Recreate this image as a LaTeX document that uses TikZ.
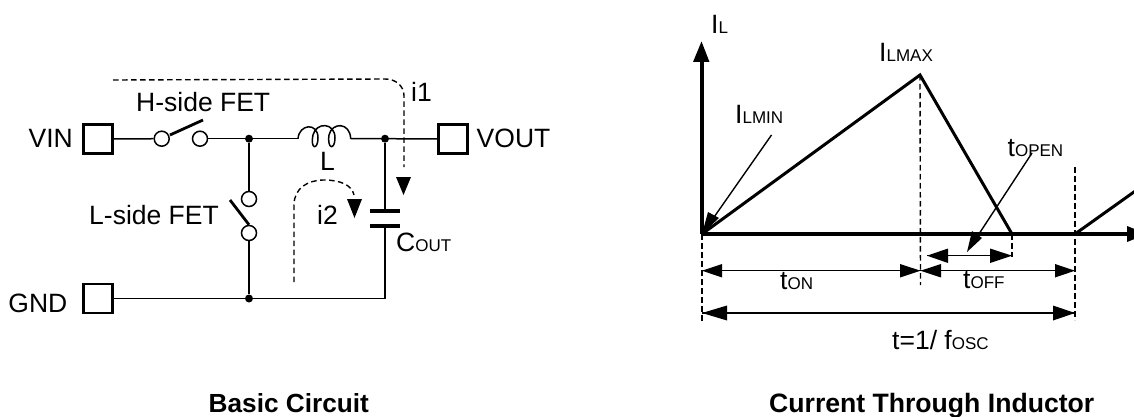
\documentclass[tikz,border=0pt]{standalone}
\usepackage{fontspec}
\setmainfont{Liberation Sans}
\newcommand{\sbs}[1]{{\fontsize{17}{17}\selectfont #1}}
\tikzset{
  x=1pt,y=-1pt,
  wire/.style={line width=1.5pt,draw=black},
  fat/.style={line width=2.8pt,draw=black},
  axisln/.style={line width=4pt,draw=black},
  dashln/.style={line width=1.4pt,draw=black,dash pattern=on 5.5pt off 3.5pt},
  term/.style={draw=black,line width=2.2pt,minimum size=29pt,inner sep=0pt,fill=white},
  dotn/.style={circle,fill=black,inner sep=0pt,minimum size=8pt},
  sw/.style={circle,draw=black,line width=1.5pt,minimum size=15pt,inner sep=0pt,fill=white},
  lab/.style={font=\fontsize{26.5}{28}\selectfont,inner sep=0pt,anchor=base west},
  ttl/.style={font=\fontsize{26.2}{28}\selectfont\bfseries,inner sep=0pt,anchor=base west},
  ttlb/.style={font=\fontsize{26.6}{28}\selectfont\bfseries,inner sep=0pt,anchor=base west},
  head/.style={fill=black,draw=none},
  dim/.style={line width=1.5pt,draw=black}
}
\begin{document}
\begin{tikzpicture}
\useasboundingbox (0,0) rectangle (1134,417);
\clip (0,0) rectangle (1134,417);
% circuit nodes
\node[term] (vin) at (98,139) {};
\node[term] (vout) at (453,139) {};
\node[term] (gnd) at (98,298.5) {};
\node[sw] (s1) at (161.7,138.7) {};
\node[sw] (s2) at (200,138.7) {};
\node[sw] (s3) at (249,199) {};
\node[sw] (s4) at (249,233) {};
\node[dotn] (j1) at (249,138.7) {};
\node[dotn] (j2) at (385,138.7) {};
\node[dotn] (j3) at (249,298.5) {};
\coordinate (c1) at (385,211);
\coordinate (c2) at (385,226);
\coordinate (lA) at (298,138.7);
\coordinate (lB) at (350.7,138.7);
\coordinate (corner) at (385,298.5);
% wires
\draw[wire] (vin) -- (s1);
\draw[wire] (s2) -- (j1) -- (lA);
\draw[wire] (lB) -- (j2) -- (vout);
\draw[wire] (j1) -- (s3);
\draw[wire] (s4) -- (j3);
\draw[wire] (gnd) -- (j3) -- (corner) -- (c2);
\draw[wire] (j2) -- (c1);
% inductor
\draw[wire] (lA) .. controls (299,124) and (318,122) .. (318,138)
  .. controls (318,150) and (310,150) .. (313,135) 
  .. controls (316,122) and (335,122) .. (335,138)
  .. controls (335,150) and (327,150) .. (329,135)
  .. controls (332,122) and (350,122) .. (lB);
% switch levers
\draw[fat] (170,135) -- (203,120);
\draw[fat] (230,200) -- (s4.north);
% capacitor
\draw[line width=4pt] (370,211) -- (400,211);
\draw[line width=4pt] (370,226) -- (400,226);
% current paths
\coordinate (i1s) at (113,80);
\coordinate (i1e) at (404,167);
\draw[dashln] (i1s) -- (385,79) .. controls (396,79) and (404,86) .. (404,96) -- (i1e);
\fill[head] (396,177) -- (411,177) -- (403.5,195) -- cycle;
\coordinate (i2s) at (294,282);
\coordinate (i2e) at (354,195);
\draw[dashln] (i2s) -- (294,205) .. controls (294,188) and (308,180) .. (324,180) .. controls (340,180) and (352,185) .. (i2e);
\fill[head] (347,199) -- (362,199) -- (354.5,218) -- cycle;
% circuit labels
\node[lab,anchor=base east] (tvin) at (73,147.5) {VIN};
\node[lab] (tvout) at (476.5,147.5) {VOUT};
\node[lab,anchor=base east] (tgnd) at (67.5,312) {GND};
\node[lab] (thf) at (136,111.7) {H-side FET};
\node[lab] (tlf) at (89,224.3) {L-side FET};
\node[lab] (tl) at (320,170.5) {L};
\node[lab] (ti1) at (411,102) {i1};
\node[lab] (ti2) at (317,224.3) {i2};
\node[lab] (tc) at (396,251) {C\sbs{OUT}};
\node[ttl] (t1) at (208.5,412.5) {Basic Circuit};
\node[ttlb] (t2) at (769,412.5) {Current Through Inductor};
% waveform
\coordinate (o) at (702,234);
\coordinate (ytop) at (702,60);
\coordinate (xend) at (1128,234);
\coordinate (peak) at (920,75);
\coordinate (zero) at (1012,234);
\coordinate (next) at (1075,234);
\coordinate (nextE) at (1136,190.5);
\draw[dashln] (peak) -- (920.5,285);
\draw[dashln] (1075,167) -- (1075,320);
\draw[dashln] (o) -- (702,322);
\draw[dashln] (zero) -- (1012,257);
\draw[axisln] (o) -- (ytop);
\draw[axisln] (o) -- (xend);
\fill[head] (693,62) -- (709.5,62) -- (701.5,41.5) -- cycle;
\fill[head] (1127,226) -- (1127,242) -- (1147,234) -- cycle;
\draw[line width=3pt,line join=miter] (o) -- (peak) -- (zero);
\draw[line width=3pt] (next) -- (nextE);
% leaders
\coordinate (lmina) at (771.5,135);
\draw[line width=1.4pt] (lmina) -- (712,220);
\fill[head] (702,234) -- (708,212) -- (719,218) -- cycle;
\coordinate (lopa) at (1032,153);
\draw[line width=1.4pt] (lopa) -- (975,240);
\fill[head] (967,252) -- (972,231) -- (982,238) -- cycle;
% dimensions
\coordinate (dop1) at (927,255.7);
\coordinate (dop2) at (1012,255.7);
\draw[dim] (dop1) -- (dop2);
\fill[head] (927,255.7) -- (948,248.5) -- (948,263) -- cycle;
\fill[head] (1012,255.7) -- (990,248.5) -- (990,263) -- cycle;
\coordinate (don1) at (702,270.7);
\coordinate (don2) at (920.5,270.7);
\coordinate (dof2) at (1075,270.7);
\draw[dim] (don1) -- (don2) -- (dof2);
\fill[head] (702,270.7) -- (722,264) -- (722,277.5) -- cycle;
\fill[head] (920.5,270.7) -- (900,264) -- (900,277.5) -- cycle;
\fill[head] (920.5,270.7) -- (941,264) -- (941,277.5) -- cycle;
\fill[head] (1075,270.7) -- (1055,264) -- (1055,277.5) -- cycle;
\coordinate (dt1) at (702,313);
\coordinate (dt2) at (1075,313);
\draw[dim] (dt1) -- (dt2);
\fill[head] (702,313) -- (727,305.5) -- (727,320.5) -- cycle;
\fill[head] (1075,313) -- (1053,305.5) -- (1053,320.5) -- cycle;
% waveform labels
\node[lab] (til) at (711,34) {I\sbs{L}};
\node[lab] (tmax) at (879,62) {I\sbs{LMAX}};
\node[lab] (tmin) at (735,124) {I\sbs{LMIN}};
\node[lab] (topen) at (1007.5,156) {t\sbs{OPEN}};
\node[lab] (ton) at (780,289) {t\sbs{ON}};
\node[lab] (toff) at (963,288) {t\sbs{OFF}};
\node[lab] (tf) at (892,349) {t=1/ f\sbs{OSC}};
\end{tikzpicture}
\end{document}
